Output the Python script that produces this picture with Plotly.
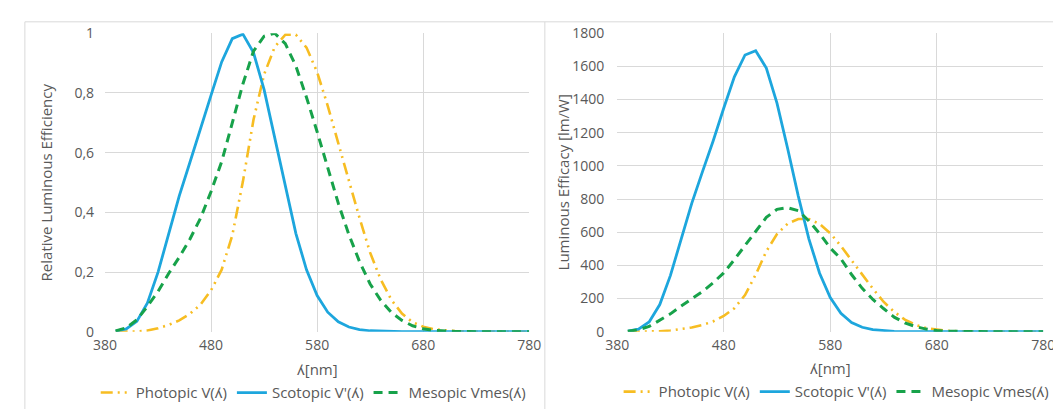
import plotly.graph_objects as go

# ---------------- data ----------------
wavelength = [390, 400, 410, 420, 430, 440, 450, 460, 470, 480,
              490, 500, 510, 520, 530, 540, 550, 560, 570, 580,
              590, 600, 610, 620, 630, 640, 650, 660, 670, 680,
              690, 700, 710, 720, 730, 740, 750, 760, 770, 780]

# relative luminous efficiency (left chart)
photopic_rel = [0.00012, 0.0004, 0.0012, 0.004, 0.0116, 0.023, 0.038, 0.06, 0.091, 0.139,
                0.208, 0.323, 0.503, 0.71, 0.862, 0.954, 0.995, 0.995, 0.952, 0.87,
                0.757, 0.631, 0.503, 0.381, 0.265, 0.175, 0.107, 0.061, 0.032, 0.017,
                0.0082, 0.0041, 0.0021, 0.00105, 0.00052, 0.00025, 0.00012, 0.00006, 0.00003, 0.000015]
scotopic_rel = [0.0022, 0.0093, 0.0348, 0.0966, 0.1998, 0.3281, 0.455, 0.567, 0.676, 0.793,
                0.904, 0.982, 0.997, 0.935, 0.811, 0.65, 0.481, 0.3288, 0.2076, 0.1212,
                0.0655, 0.0332, 0.0159, 0.0074, 0.0033, 0.0015, 0.0007, 0.0003, 0.00015, 0.00007,
                0.00004, 0.00002, 0.00001, 0, 0, 0, 0, 0, 0, 0]
mesopic_rel = [0.003, 0.013, 0.04, 0.085, 0.135, 0.195, 0.25, 0.31, 0.38, 0.47,
               0.57, 0.70, 0.83, 0.94, 0.99, 1.0, 0.965, 0.89, 0.785, 0.67,
               0.55, 0.43, 0.325, 0.235, 0.16, 0.105, 0.065, 0.038, 0.02, 0.01,
               0.0045, 0.002, 0.001, 0.0005, 0.0002, 0.0001, 0, 0, 0, 0]

# luminous efficacy in lm/W (right chart)
photopic_eff = [0.08, 0.27, 0.82, 2.7, 7.9, 15.7, 26, 41, 62, 95,
                142, 221, 344, 485, 589, 652, 680, 680, 650, 594,
                517, 431, 344, 260, 181, 120, 73, 42, 22, 11.6,
                5.6, 2.8, 1.4, 0.7, 0.36, 0.17, 0.08, 0.04, 0.02, 0.01]
scotopic_eff = [3.8, 15.8, 59, 164, 340, 558, 774, 964, 1149, 1348,
                1537, 1669, 1695, 1590, 1379, 1105, 818, 559, 353, 206,
                111, 56, 27, 12.5, 5.7, 2.5, 1.2, 0.5, 0.25, 0.1,
                0.05, 0.03, 0.01, 0, 0, 0, 0, 0, 0, 0]
mesopic_eff = [3, 12, 32, 68, 108, 155, 197, 242, 295, 355,
               435, 520, 610, 690, 738, 748, 730, 668, 592, 505,
               440, 345, 262, 195, 140, 88, 54, 31, 16, 7,
               3, 1.5, 0.7, 0.3, 0.1, 0.05, 0, 0, 0, 0]

x_ticks = [380, 480, 580, 680, 780]
x_ticklabels = ["380", "480", "580", "680", "780"]
y1_ticks = [0, 0.2, 0.4, 0.6, 0.8, 1]
y1_ticklabels = ["0", "0,2", "0,4", "0,6", "0,8", "1"]
y2_ticks = [0, 200, 400, 600, 800, 1000, 1200, 1400, 1600, 1800]
y2_ticklabels = ["0", "200", "400", "600", "800", "1000", "1200", "1400", "1600", "1800"]

series_names = ["Photopic V(ʎ)", "Scotopic V'(ʎ)", "Mesopic Vmes(ʎ)"]

# ---------------- style ----------------
W, H = 1061, 410
FONT = "'Open Sans', Lato, 'DejaVu Sans', sans-serif"
TXT = "#595959"
GRID = "#D9D9D9"
C_PHOT = "#F7BD22"
C_SCOT = "#1DA6DD"
C_MES = "#17A24A"

styles = [
    dict(color=C_PHOT, width=2.6, dash="12px,5px,2px,5px,2px,5px"),
    dict(color=C_SCOT, width=2.8, dash="solid"),
    dict(color=C_MES, width=3, dash="9px,6px"),
]

def px_x(p):
    return p / W

def px_y(p):
    return 1 - p / H

fig = go.Figure()

left_sets = [photopic_rel, scotopic_rel, mesopic_rel]
right_sets = [photopic_eff, scotopic_eff, mesopic_eff]

for name, ys, st in zip(series_names, left_sets, styles):
    fig.add_trace(go.Scatter(x=wavelength, y=ys, mode="lines", name=name,
                             line=st, xaxis="x", yaxis="y", legend="legend"))
for name, ys, st in zip(series_names, right_sets, styles):
    fig.add_trace(go.Scatter(x=wavelength, y=ys, mode="lines", name=name,
                             line=st, xaxis="x2", yaxis="y2", legend="legend2"))

ydom = [px_y(329), px_y(16)]
axis_common = dict(showgrid=True, gridcolor=GRID, gridwidth=1, zeroline=False,
                   ticks="", tickfont=dict(family=FONT, size=14, color=TXT),
                   showline=False)

fig.update_layout(
    width=W, height=H,
    margin=dict(l=0, r=0, t=0, b=0),
    paper_bgcolor="white", plot_bgcolor="white",
    font=dict(family=FONT, color=TXT),
    xaxis=dict(domain=[px_x(87), px_x(521)], range=[380, 780], anchor="y",
               tickmode="array", tickvals=x_ticks, ticktext=x_ticklabels,
               ticklabelstandoff=3, **axis_common),
    yaxis=dict(domain=ydom, range=[0, 1], anchor="x",
               tickmode="array", tickvals=y1_ticks, ticktext=y1_ticklabels,
               ticklabelstandoff=10, **axis_common),
    xaxis2=dict(domain=[px_x(611), px_x(1047)], range=[380, 780], anchor="y2",
                tickmode="array", tickvals=x_ticks, ticktext=x_ticklabels,
                ticklabelstandoff=3, **axis_common),
    yaxis2=dict(domain=ydom, range=[0, 1800], anchor="x2",
                tickmode="array", tickvals=y2_ticks, ticktext=y2_ticklabels,
                ticklabelstandoff=12, **axis_common),
    legend=dict(orientation="h", x=px_x(300), xanchor="center",
                y=px_y(393), yanchor="middle",
                font=dict(family=FONT, size=15, color=TXT),
                itemwidth=30, bgcolor="rgba(0,0,0,0)", tracegroupgap=0),
    legend2=dict(orientation="h", x=px_x(835), xanchor="center",
                 y=px_y(392), yanchor="middle",
                 font=dict(family=FONT, size=15, color=TXT),
                 itemwidth=30, bgcolor="rgba(0,0,0,0)", tracegroupgap=0),
    showlegend=True,
)

# axis titles as annotations
ann_font = dict(family=FONT, size=15, color=TXT)
fig.add_annotation(text="ʎ[nm]", xref="paper", yref="paper", x=px_x(304), y=px_y(368),
                   showarrow=False, font=ann_font, xanchor="center", yanchor="middle")
fig.add_annotation(text="ʎ[nm]", xref="paper", yref="paper", x=px_x(829), y=px_y(367),
                   showarrow=False, font=ann_font, xanchor="center", yanchor="middle")
fig.add_annotation(text="Relative Luminous Efficiency", xref="paper", yref="paper",
                   x=px_x(27), y=px_y(172), textangle=-90, showarrow=False, font=ann_font,
                   xanchor="center", yanchor="middle")
fig.add_annotation(text="Luminous Efficacy [lm/W]", xref="paper", yref="paper",
                   x=px_x(556), y=px_y(172), textangle=-90, showarrow=False, font=ann_font,
                   xanchor="center", yanchor="middle")

# chart frame borders
border = dict(color=GRID, width=1)
fig.add_shape(type="line", xref="paper", yref="paper", x0=px_x(5), x1=1, y0=px_y(4), y1=px_y(4), line=border)
fig.add_shape(type="line", xref="paper", yref="paper", x0=px_x(5), x1=px_x(5), y0=px_y(4), y1=0, line=border)
fig.add_shape(type="line", xref="paper", yref="paper", x0=px_x(537), x1=px_x(537), y0=px_y(4), y1=0, line=border)

fig.write_html("out.html")
